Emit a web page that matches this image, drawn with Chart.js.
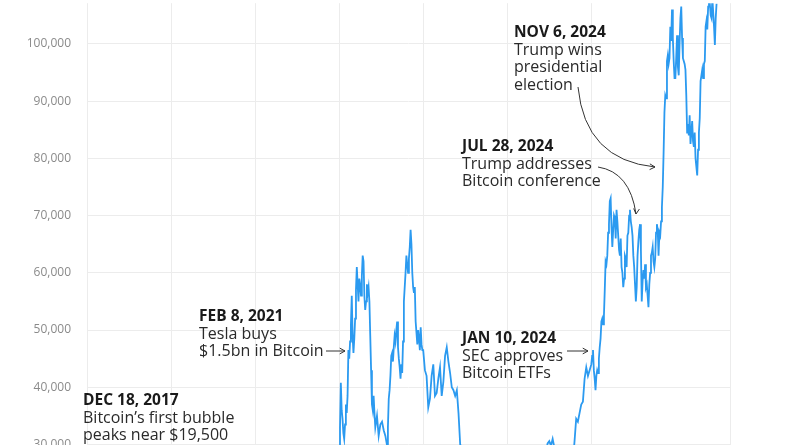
<!DOCTYPE html>
<html><head><meta charset="utf-8">
<script src="https://cdn.jsdelivr.net/npm/chart.js@4"></script>
<style>html,body{margin:0;padding:0;background:#fff;overflow:hidden}#w{width:800px;height:545px;margin-top:-20px}</style>
</head><body><div id="w"><canvas id="c"></canvas></div>
<script>
const dates2018_2020 = [2018.0,2018.04,2018.08,2018.12,2018.17,2018.25,2018.33,2018.42,2018.5,2018.58,2018.67,2018.75,2018.83,2018.9,2018.96,
2019.0,2019.08,2019.17,2019.25,2019.33,2019.42,2019.48,2019.52,2019.58,2019.67,2019.75,2019.83,2019.92,
2020.0,2020.08,2020.17,2020.21,2020.25,2020.33,2020.42,2020.5,2020.58,2020.67,2020.75,2020.83,2020.88,2020.92,2020.96,2020.985];
const prices2018_2020 = [13500,11200,9000,10500,9000,7000,9300,7600,6400,7500,6400,6600,6400,5500,3700,
3800,3500,3900,5000,7500,9000,12500,10000,11000,10000,8300,9200,7300,
7200,9500,8800,5200,6700,8700,9500,9300,11200,11600,10700,13100,15500,19000,23500,28000];
const dates2021 = [2021.0,2021.01,2021.02,2021.03,2021.04,2021.05,2021.06,2021.07,2021.08,2021.09,2021.1,2021.11,2021.12,2021.13,2021.14,2021.15,2021.16,2021.17,2021.18,2021.19,2021.2,2021.21,2021.22,2021.23,2021.24,2021.25,2021.26,2021.27,2021.28,2021.29,2021.3,2021.31,2021.32,2021.33,2021.34,2021.35,2021.36,2021.37,2021.38,2021.39,2021.4,2021.41,2021.42,2021.43,2021.45,2021.47,2021.49,2021.51,2021.53,2021.55,2021.57,2021.58,2021.59,2021.6,2021.61,2021.62,2021.63,2021.64,2021.65,2021.66,2021.67,2021.68,2021.69,2021.7,2021.71,2021.72,2021.73,2021.74,2021.75,2021.76,2021.77,2021.78,2021.79,2021.8,2021.81,2021.82,2021.83,2021.84,2021.85,2021.86,2021.87,2021.88,2021.89,2021.9,2021.91,2021.92,2021.93,2021.94,2021.95,2021.96,2021.97,2021.98,2021.99];
const prices2021 = [29500,33000,40800,36000,34500,32000,31000,33500,37000,35500,38500,46500,45000,48000,51000,56000,49000,46000,48500,52000,57000,61000,58000,55000,59000,58000,56000,59500,63000,62000,56000,53500,55000,58000,56500,57500,55000,49000,43000,37000,36000,38500,35500,33000,35000,31500,33500,34000,32500,31500,29800,33000,38000,39500,42000,45500,46000,44500,47000,49000,48000,50000,51500,47000,45000,43500,41500,44000,42500,48000,55000,57500,60000,63000,61500,60000,62500,64500,67500,65000,60000,57500,56500,57500,51500,49500,47500,50000,48500,46500,50500,47500,46500];
const dates2022_2023 = [2022.0,2022.02,2022.04,2022.06,2022.08,2022.1,2022.12,2022.14,2022.16,2022.18,2022.2,2022.22,2022.24,2022.26,2022.28,2022.3,2022.32,2022.34,2022.36,2022.38,2022.4,2022.42,2022.44,2022.46,2022.5,2022.6,2022.7,2022.8,2022.9,
2023.0,2023.1,2023.2,2023.3,2023.4,2023.45,2023.48,2023.5,2023.52,2023.54,2023.56,2023.6,2023.7,2023.78,2023.8,2023.82,2023.84,2023.86,2023.88,2023.9,2023.92,2023.94,2023.96,2023.98];
const prices2022_2023 = [46500,43000,42000,36500,38000,42000,44000,38500,39000,41500,43500,38500,41000,45500,47000,44500,42500,40000,39500,38500,39500,35500,30000,29500,20000,21000,19500,20500,17000,
16600,23000,27500,28500,27000,28000,30200,30600,29800,31000,29500,29200,26800,27000,30500,34500,34000,35500,37000,37500,41500,43500,42000,43000];
const dates2024 = [2024.0,2024.01,2024.02,2024.03,2024.04,2024.05,2024.06,2024.07,2024.08,2024.09,2024.1,2024.11,2024.12,2024.13,2024.14,2024.15,2024.16,2024.17,2024.18,2024.19,2024.2,2024.21,2024.22,2024.23,2024.24,2024.25,2024.26,2024.27,2024.28,2024.29,2024.3,2024.31,2024.32,2024.33,2024.34,2024.35,2024.36,2024.37,2024.38,2024.39,2024.4,2024.41,2024.42,2024.43,2024.44,2024.45,2024.46,2024.47,2024.48,2024.49,2024.5,2024.51,2024.52,2024.53,2024.54,2024.55,2024.56,2024.57,2024.58,2024.59,2024.6,2024.61,2024.62,2024.63,2024.64,2024.65,2024.66,2024.67,2024.68,2024.69,2024.7,2024.71,2024.72,2024.73,2024.74,2024.75,2024.76,2024.77,2024.78,2024.79,2024.8,2024.81,2024.82,2024.83,2024.84,2024.85,2024.86,2024.87,2024.88,2024.89,2024.9,2024.91,2024.92,2024.93,2024.94,2024.95,2024.96,2024.97,2024.98,2024.99];
const prices2024 = [44000,45500,46500,43000,41500,39500,42000,43000,42500,45000,
47000,48500,51500,52000,51000,52500,57000,62000,61500,63000,
67000,68500,72500,73000,68000,64500,67500,70000,69500,66000,
71000,69000,66500,64000,63000,66000,61000,60000,57500,59000,
63000,62500,61000,66500,67000,70000,71000,69000,68000,66500,
63000,61000,58000,55000,57500,63000,65500,67500,68500,64000,
55000,58500,60500,59000,61500,57500,58000,56000,54000,58000,
60000,63000,63500,64500,62000,61000,62500,67000,68500,67500,
63000,67000,66500,69000,71500,75000,81000,88000,91000,90500,
97000,98000,96500,97500,103000,100500,106000,101000,97000,94000];
const dates2025 = [2025.0,2025.01,2025.02,2025.03,2025.04,2025.05,2025.06,2025.07,2025.08,2025.09,2025.1,2025.11,2025.12,2025.13,2025.14,2025.15,2025.16,2025.17,2025.18,2025.19,2025.2,2025.21,2025.22,2025.23,2025.24,2025.25,2025.26,2025.27,2025.28,2025.29,2025.3,2025.31,2025.32,2025.33,2025.34,2025.35,2025.36,2025.37,2025.38,2025.39,2025.4,2025.41,2025.42,2025.43,2025.44,2025.45,2025.46,2025.47,2025.48,2025.49];
const prices2025 = [94000,97500,101500,96000,94500,100000,104500,106500,
101000,97500,97000,96500,
95500,91000,84500,86000,84000,87500,82500,84500,
86500,83000,82000,84500,80000,78500,77000,81500,
84500,87000,93500,94500,95500,94000,96500,97000,
103000,104000,102500,106500,109500,107000,
105000,104500,108000,105500,103000,99800,104500,107000];
const yTicks = [30000,40000,50000,60000,70000,80000,90000,100000];
const notes = [
 {title:"DEC 18, 2017", lines:["Bitcoin’s first bubble","peaks near $19,500"]},
 {title:"FEB 8, 2021", lines:["Tesla buys","$1.5bn in Bitcoin"]},
 {title:"JAN 10, 2024", lines:["SEC approves","Bitcoin ETFs"]},
 {title:"JUL 28, 2024", lines:["Trump addresses","Bitcoin conference"]},
 {title:"NOV 6, 2024", lines:["Trump wins","presidential","election"]}
];
const noteXY = [[83,405],[199,321],[462,343],[462,151],[514,37]];

const allDates = [].concat(dates2018_2020,dates2021,dates2022_2023,dates2024,dates2025);
const allPrices = [].concat(prices2018_2020,prices2021,prices2022_2023,prices2024,prices2025);
const pts = allPrices.map((p,i)=>({x:allDates[i],y:p}));

const notesPlugin = {
  id:'notes',
  afterDatasetsDraw(chart){
    const ctx = chart.ctx;
    ctx.save();
    ctx.translate(0,20);
    notes.forEach((n,i)=>{
      const [x,y]=noteXY[i];
      ctx.fillStyle='#1a1a1a';
      ctx.font='bold 15.5px "Open Sans"';
      ctx.fillText(n.title,x,y);
      ctx.font='16px "Open Sans"';
      ctx.fillStyle='#2a2a2a';
      n.lines.forEach((l,j)=>ctx.fillText(l,x,y+17.5*(j+1)));
    });
    ctx.strokeStyle='#333';ctx.lineWidth=1;
    const head=(x,y,ang)=>{ctx.beginPath();ctx.moveTo(x-6*Math.cos(ang-0.5),y-6*Math.sin(ang-0.5));ctx.lineTo(x,y);ctx.lineTo(x-6*Math.cos(ang+0.5),y-6*Math.sin(ang+0.5));ctx.stroke();};
    ctx.beginPath();ctx.moveTo(326,351);ctx.lineTo(345,351);ctx.stroke();head(345,351,0);
    ctx.beginPath();ctx.moveTo(567,351);ctx.lineTo(588,351);ctx.stroke();head(588,351,0);
    ctx.beginPath();ctx.moveTo(598,167);ctx.quadraticCurveTo(630,172,636,214);ctx.stroke();head(636,214,Math.PI/2+0.1);
    ctx.beginPath();ctx.moveTo(578,87);ctx.quadraticCurveTo(585,160,655,167);ctx.stroke();head(655,167,0.05);
    ctx.restore();
  }
};

new Chart(document.getElementById('c'),{
  type:'line',
  data:{datasets:[{data:pts,borderColor:'#2b9af0',borderWidth:1.8,pointRadius:0,tension:0}]},
  options:{
    responsive:true,maintainAspectRatio:false,animation:false,
    layout:{padding:{left:0,right:70,top:0,bottom:0}},
    plugins:{legend:{display:false},tooltip:{enabled:false}},
    scales:{
      x:{type:'linear',min:2018,max:2025.65,display:true,
         ticks:{display:false,stepSize:1},border:{display:false},
         grid:{color:'#ececec',drawTicks:false}},
      y:{min:20000,max:107100,
         afterFit(s){s.width=87;},
         afterBuildTicks(s){s.ticks=yTicks.map(v=>({value:v}));},
         ticks:{color:'#8a8a8a',font:{family:'"Open Sans"',size:12},padding:16,
           callback:v=>v.toLocaleString('en-US')},
         border:{display:false},grid:{color:'#ececec',drawTicks:false}}
    }
  },
  plugins:[notesPlugin]
});
</script></body></html>
